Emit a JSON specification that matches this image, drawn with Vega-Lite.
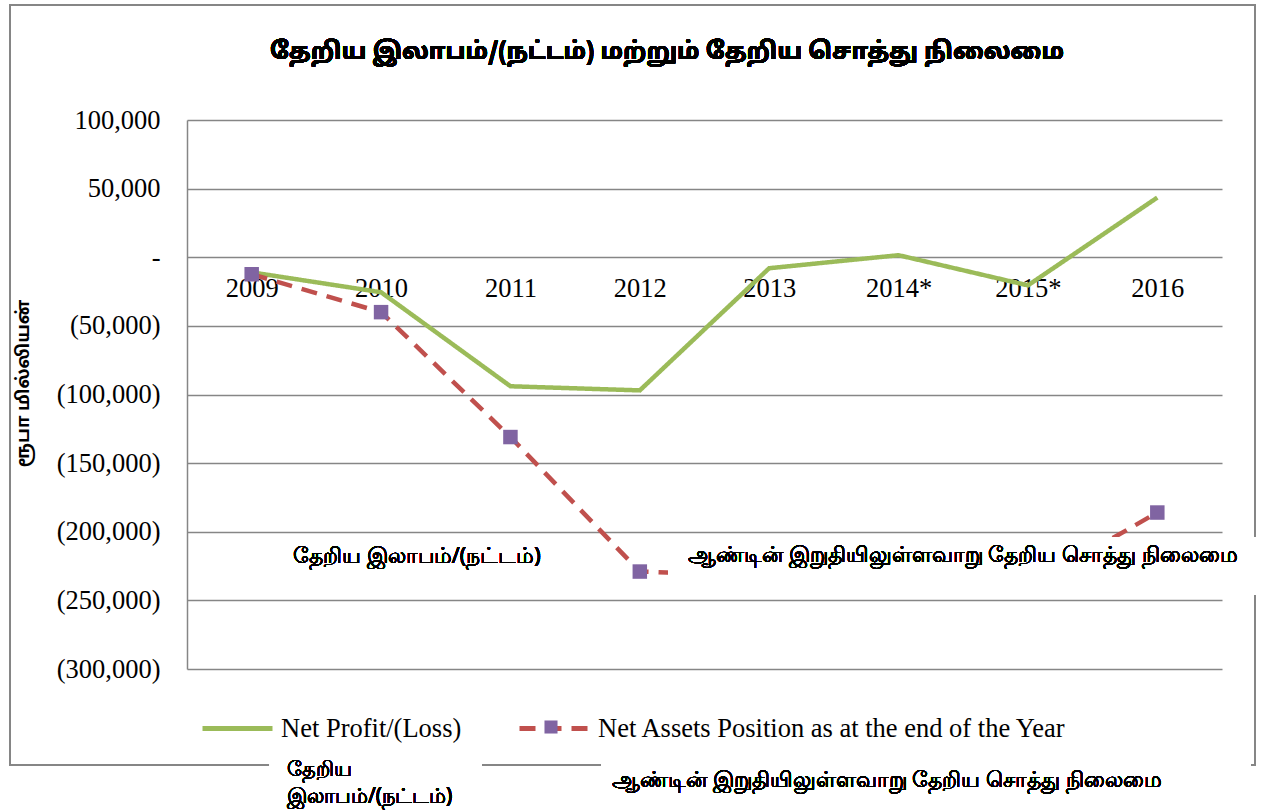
{
  "$schema": "https://vega.github.io/schema/vega-lite/v6.json",
  "width": 1035,
  "height": 549,
  "autosize": "none",
  "padding": {"left": 187, "top": 120, "right": 45, "bottom": 142},
  "background": "white",
  "config": {"view": {"stroke": null}},
  "data": {
    "values": [
      {"i": 0, "year": "2009", "series": "Net Profit/(Loss)", "value": -11000},
      {"i": 1, "year": "2010", "series": "Net Profit/(Loss)", "value": -25500},
      {"i": 2, "year": "2011", "series": "Net Profit/(Loss)", "value": -94000},
      {"i": 3, "year": "2012", "series": "Net Profit/(Loss)", "value": -97000},
      {"i": 4, "year": "2013", "series": "Net Profit/(Loss)", "value": -8000},
      {"i": 5, "year": "2014*", "series": "Net Profit/(Loss)", "value": 1500},
      {"i": 6, "year": "2015*", "series": "Net Profit/(Loss)", "value": -20500},
      {"i": 7, "year": "2016", "series": "Net Profit/(Loss)", "value": 43500},
      {"i": 0, "year": "2009", "series": "Net Assets Position as at the end of the Year", "value": -12400},
      {"i": 1, "year": "2010", "series": "Net Assets Position as at the end of the Year", "value": -40000},
      {"i": 2, "year": "2011", "series": "Net Assets Position as at the end of the Year", "value": -131000},
      {"i": 3, "year": "2012", "series": "Net Assets Position as at the end of the Year", "value": -229000},
      {"i": 4, "year": "2013", "series": "Net Assets Position as at the end of the Year", "value": -232000},
      {"i": 5, "year": "2014*", "series": "Net Assets Position as at the end of the Year", "value": -230000},
      {"i": 6, "year": "2015*", "series": "Net Assets Position as at the end of the Year", "value": -240000},
      {"i": 7, "year": "2016", "series": "Net Assets Position as at the end of the Year", "value": -186000}
    ]
  },
  "layer": [
    {
      "mark": {"type": "rect", "fill": null, "stroke": "#868686", "strokeWidth": 1.5},
      "encoding": {
        "x": {"datum": -1.868, "type": "quantitative", "scale": {"domain": [-0.5, 7.5], "nice": false, "zero": false}},
        "x2": {"datum": 7.755},
        "y": {"datum": 183790, "type": "quantitative", "scale": {"domain": [-300000, 100000], "nice": false, "zero": false}},
        "y2": {"datum": -369950}
      }
    },
    {
      "mark": {"type": "text", "text": "தேறிய இலாபம்/(நட்டம்) மற்றும் தேறிய சொத்து நிலைமை", "font": "'Noto Sans Tamil', 'Noto Sans'", "fontSize": 24, "fontWeight": "bold", "color": "black", "align": "center", "baseline": "middle"},
      "encoding": {
        "x": {"datum": 3.21, "type": "quantitative"},
        "y": {"datum": 149500, "type": "quantitative"}
      }
    },
    {
      "mark": {"type": "line", "strokeWidth": 4.5, "strokeCap": "butt"},
      "encoding": {
        "x": {
          "field": "i", "type": "quantitative",
          "scale": {"domain": [-0.5, 7.5], "nice": false, "zero": false},
          "axis": {
            "title": null,
            "values": [0, 1, 2, 3, 4, 5, 6, 7],
            "labelExpr": "['2009','2010','2011','2012','2013','2014*','2015*','2016'][datum.value]",
            "grid": false, "domain": false, "ticks": false,
            "offset": -411.75,
            "labelPadding": 18,
            "labelFont": "Liberation Serif",
            "labelFontSize": 26.5,
            "labelColor": "black",
            "labelFlush": false,
            "labelOverlap": false
          }
        },
        "y": {
          "field": "value", "type": "quantitative",
          "scale": {"domain": [-300000, 100000], "nice": false, "zero": false},
          "axis": {
            "title": "ரூபா மில்லியன்",
            "titleFont": "'Noto Sans Tamil', 'Noto Sans'",
            "titleFontSize": 18,
            "titleFontWeight": "bold",
            "titleColor": "black",
            "titleX": -155,
            "titleY": 263,
            "values": [-300000, -250000, -200000, -150000, -100000, -50000, 0, 50000, 100000],
            "labelExpr": "datum.value == 0 ? '-' : (datum.value < 0 ? '(' + format(-datum.value, ',') + ')' : format(datum.value, ','))",
            "labelFont": "Liberation Serif",
            "labelFontSize": 26.5,
            "labelColor": "black",
            "labelPadding": 27,
            "ticks": false,
            "grid": true,
            "gridColor": "#868686",
            "gridWidth": 1.5,
            "domain": true,
            "domainColor": "#868686",
            "domainWidth": 1.5
          }
        },
        "color": {
          "field": "series", "type": "nominal",
          "scale": {"domain": ["Net Profit/(Loss)", "Net Assets Position as at the end of the Year"], "range": ["#9BBB59", "#C0504D"]},
          "legend": {
            "title": null,
            "orient": "none",
            "direction": "horizontal",
            "legendX": 13,
            "legendY": 571,
            "symbolType": "stroke",
            "symbolSize": 4900,
            "symbolStrokeWidth": 5,
            "labelFont": "Liberation Serif",
            "labelFontSize": 26.5,
            "labelColor": "black",
            "labelOffset": 6,
            "columnPadding": 47,
            "labelLimit": 700
          }
        },
        "strokeDash": {
          "field": "series", "type": "nominal",
          "scale": {"domain": ["Net Profit/(Loss)", "Net Assets Position as at the end of the Year"], "range": [[1, 0], [16, 10]]},
          "legend": null
        },
        "order": {"field": "i", "type": "quantitative"}
      }
    },
    {
      "transform": [{"filter": "datum.series == 'Net Assets Position as at the end of the Year'"}],
      "mark": {"type": "point", "shape": "square", "filled": true, "size": 210, "opacity": 1, "strokeWidth": 0},
      "encoding": {
        "x": {"field": "i", "type": "quantitative"},
        "y": {"field": "value", "type": "quantitative"},
        "fill": {
          "field": "series", "type": "nominal",
          "scale": {"domain": ["Net Assets Position as at the end of the Year"], "range": ["#8064A2"]},
          "legend": {
            "title": null,
            "orient": "none",
            "legendX": 357,
            "legendY": 600,
            "symbolType": "square",
            "symbolSize": 170,
            "symbolStrokeWidth": 0,
            "symbolOpacity": 1,
            "labelExpr": "''",
            "labelOffset": 0
          }
        }
      }
    },
    {
      "mark": {"type": "rect", "fill": "white", "stroke": null},
      "encoding": {
        "x": {"datum": 3.218, "type": "quantitative"},
        "x2": {"datum": 7.8},
        "y": {"datum": -204000, "type": "quantitative"},
        "y2": {"datum": -246000}
      }
    },
    {
      "mark": {"type": "rect", "fill": "white", "stroke": null},
      "encoding": {
        "x": {"datum": 0.14, "type": "quantitative"},
        "x2": {"datum": 1.78},
        "y": {"datum": -360000, "type": "quantitative"},
        "y2": {"datum": -400000}
      }
    },
    {
      "mark": {"type": "rect", "fill": "white", "stroke": null},
      "encoding": {
        "x": {"datum": 2.70, "type": "quantitative"},
        "x2": {"datum": 7.72},
        "y": {"datum": -360000, "type": "quantitative"},
        "y2": {"datum": -400000}
      }
    },
    {
      "mark": {"type": "text", "text": "தேறிய இலாபம்/(நட்டம்)", "font": "Noto Sans", "fontSize": 21.5, "color": "black", "align": "center", "baseline": "middle"},
      "encoding": {
        "x": {"datum": 1.278, "type": "quantitative"},
        "y": {"datum": -218600, "type": "quantitative"}
      }
    },
    {
      "mark": {"type": "text", "text": "ஆண்டின் இறுதியிலுள்ளவாறு தேறிய சொத்து நிலைமை", "font": "Noto Sans", "fontSize": 22, "color": "black", "align": "left", "baseline": "middle"},
      "encoding": {
        "x": {"datum": 3.372, "type": "quantitative"},
        "y": {"datum": -217100, "type": "quantitative"}
      }
    },
    {
      "mark": {"type": "text", "text": ["தேறிய", "இலாபம்/(நட்டம்)"], "font": "Noto Sans", "fontSize": 21, "lineHeight": 27, "color": "black", "align": "left", "baseline": "middle"},
      "encoding": {
        "x": {"datum": 0.273, "type": "quantitative"},
        "y": {"datum": -373800, "type": "quantitative"}
      }
    },
    {
      "mark": {"type": "text", "text": "ஆண்டின் இறுதியிலுள்ளவாறு தேறிய சொத்து நிலைமை", "font": "Noto Sans", "fontSize": 21.8, "color": "black", "align": "left", "baseline": "middle"},
      "encoding": {
        "x": {"datum": 2.785, "type": "quantitative"},
        "y": {"datum": -381000, "type": "quantitative"}
      }
    }
  ]
}
